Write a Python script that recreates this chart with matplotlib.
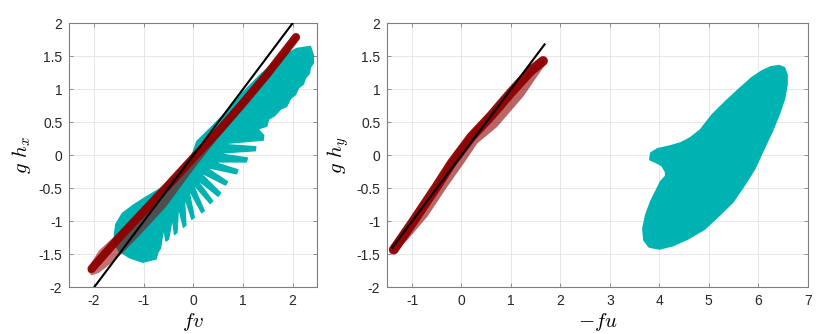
import matplotlib.pyplot as plt

plt.rcParams['font.family'] = ['Liberation Sans', 'DejaVu Sans']
plt.rcParams['mathtext.fontset'] = 'cm'

cyan = '#00B3B3'
red = '#8E0000'

# left panel: cyan cloud outline (fv, g h_x)
feather_x = [-1.59, -1.59, -1.56, -1.43, -1.22, -0.95, -0.61, -0.30, -0.05, 0.07, 0.34, 0.67, 1.01, 1.35, 1.75,
             2.09, 2.36, 2.42,
             2.42, 2.36, 2.34, 2.26, 2.22, 2.12, 2.06, 1.96, 1.88, 1.76, 1.64, 1.52, 1.48, 1.30,
             1.42, 1.41, 0.50, 1.26, 1.25, 0.47, 1.09, 1.07, 0.40, 0.90, 0.87, 0.25,
             0.69, 0.65, 0.12, 0.55, 0.50, 0.05, 0.39, 0.34, -0.02, 0.22, 0.17, -0.10,
             0.02, -0.03, -0.18, -0.15, -0.20, -0.30, -0.33, -0.38, -0.42, -0.50, -0.55, -0.60,
             -0.66, -0.72, -0.75, -1.02, -1.29, -1.50, -1.58]
feather_y = [-1.25, -1.19, -1.04, -0.88, -0.76, -0.63, -0.48, -0.27, -0.05, 0.21, 0.41, 0.66, 0.96, 1.22, 1.49,
             1.62, 1.65, 1.52,
             1.40, 1.33, 1.24, 1.17, 1.08, 1.02, 0.92, 0.86, 0.74, 0.70, 0.60, 0.55, 0.44, 0.40,
             0.30, 0.23, 0.17, 0.13, 0.07, 0.03, -0.04, -0.10, -0.10, -0.22, -0.28, -0.18,
             -0.40, -0.45, -0.25, -0.57, -0.62, -0.35, -0.69, -0.73, -0.42, -0.84, -0.87, -0.50,
             -0.94, -0.97, -0.62, -1.06, -1.09, -0.78, -1.17, -1.20, -0.95, -1.27, -1.30, -1.10,
             -1.40, -1.48, -1.57, -1.62, -1.55, -1.45, -1.35]

# left panel: red band, faint outer outline and dense core
band_l_x = [-2.10, -1.90, -1.49, -0.95, -0.41, 0.00, 0.50, 1.00, 1.50, 2.00, 2.08,
            2.13, 2.05, 1.50, 1.00, 0.50, 0.10, -0.10, -0.55, -1.09, -1.56, -1.90, -2.05, -2.13]
band_l_y = [-1.68, -1.44, -1.16, -0.78, -0.38, -0.02, 0.42, 0.86, 1.30, 1.76, 1.84,
            1.80, 1.70, 1.17, 0.70, 0.26, -0.12, -0.32, -0.78, -1.22, -1.58, -1.78, -1.82, -1.76]
core_l_x = [-2.05, -1.50, -1.00, -0.50, 0.00, 0.50, 1.00, 1.50, 2.07]
core_l_y = [-1.72, -1.25, -0.85, -0.45, -0.04, 0.36, 0.79, 1.24, 1.79]
line_l = [-2.0, 2.0]

# right panel: cyan cloud outline (-fu, g h_y)
blob_x = [6.25, 6.42, 6.52, 6.57, 6.57, 6.52, 6.42, 6.28, 6.11, 5.92, 5.71, 5.48, 5.21, 4.91, 4.57, 4.27,
          4.00, 3.80, 3.70, 3.68, 3.74, 3.84, 3.94, 4.04, 4.14, 4.14, 4.06, 3.94, 3.82, 3.84, 3.97,
          4.21, 4.44, 4.64, 4.84, 5.08, 5.35, 5.61, 5.88, 6.08]
blob_y = [1.33, 1.35, 1.32, 1.22, 1.07, 0.86, 0.64, 0.38, 0.11, -0.20, -0.45, -0.70, -0.90, -1.11, -1.26, -1.36,
          -1.41, -1.38, -1.28, -1.11, -0.90, -0.70, -0.55, -0.40, -0.32, -0.25, -0.15, -0.10, -0.06, 0.03, 0.09,
          0.13, 0.18, 0.26, 0.38, 0.61, 0.81, 0.99, 1.17, 1.27]

# right panel: red band
band_r_x = [-1.39, -1.23, -0.82, -0.42, -0.19, 0.11, 0.58, 1.05, 1.52, 1.66,
            1.69, 1.25, 0.72, 0.32, 0.05, -0.29, -0.69, -1.09, -1.36]
band_r_y = [-1.43, -1.18, -0.83, -0.32, -0.02, 0.28, 0.64, 1.02, 1.39, 1.45,
            1.37, 0.89, 0.43, 0.18, -0.12, -0.48, -0.93, -1.28, -1.48]
core_r_x = [-1.37, -1.00, -0.50, -0.20, 0.20, 0.60, 1.00, 1.40, 1.65]
core_r_y = [-1.43, -1.03, -0.47, -0.12, 0.28, 0.60, 0.95, 1.28, 1.43]
line_r = [-1.4, 1.68]

fig = plt.figure(figsize=(8.3, 3.34), dpi=100)
ax1 = fig.add_axes([0.0835, 0.1398, 0.2988, 0.7904])
ax2 = fig.add_axes([0.4666, 0.1398, 0.5065, 0.7904])

ax1.fill(feather_x, feather_y, color=cyan, lw=1.0, joinstyle='round', zorder=2)
ax1.fill(band_l_x, band_l_y, facecolor=red, edgecolor='none', alpha=0.55, zorder=3)
ax1.plot(core_l_x, core_l_y, color=red, lw=6, solid_capstyle='round', alpha=0.95, zorder=3)
ax1.plot(line_l, line_l, color='black', lw=1.5, zorder=4)

ax2.fill(blob_x, blob_y, color=cyan, lw=2.0, joinstyle='round', zorder=2)
ax2.fill(band_r_x, band_r_y, facecolor=red, edgecolor='none', alpha=0.6, zorder=3)
ax2.plot(core_r_x, core_r_y, color=red, lw=7, solid_capstyle='round', alpha=0.95, zorder=3)
ax2.plot(line_r, line_r, color='black', lw=1.5, zorder=4)

ax1.set_xlim(-2.5, 2.5)
ax1.set_xticks([-2, -1, 0, 1, 2])
ax1.set_xticklabels(['-2', '-1', '0', '1', '2'])
ax2.set_xlim(-1.5, 7)
ax2.set_xticks(range(-1, 8))
ax2.set_xticklabels([str(v) for v in range(-1, 8)])

yt = [-2, -1.5, -1, -0.5, 0, 0.5, 1, 1.5, 2]
for ax in (ax1, ax2):
    ax.set_ylim(-2, 2)
    ax.set_yticks(yt)
    ax.set_yticklabels(['-2', '-1.5', '-1', '-0.5', '0', '0.5', '1', '1.5', '2'])
    ax.grid(True, color='#e3e3e3', lw=0.6, zorder=0)
    ax.set_axisbelow(True)
    ax.tick_params(direction='in', top=True, right=True, length=3, width=0.6,
                   color='#7f7f7f', labelsize=10, labelcolor='#262626', pad=5)
    for s in ax.spines.values():
        s.set_color('#7f7f7f')
        s.set_linewidth(0.8)

ax1.set_xlabel('$fv$', fontsize=15, labelpad=2)
ax1.set_ylabel('$g\\ h_x$', fontsize=15, labelpad=4)
ax2.set_xlabel('$-fu$', fontsize=15, labelpad=2)
ax2.set_ylabel('$g\\ h_y$', fontsize=15, labelpad=4)

fig.savefig('out.png', dpi=100)
